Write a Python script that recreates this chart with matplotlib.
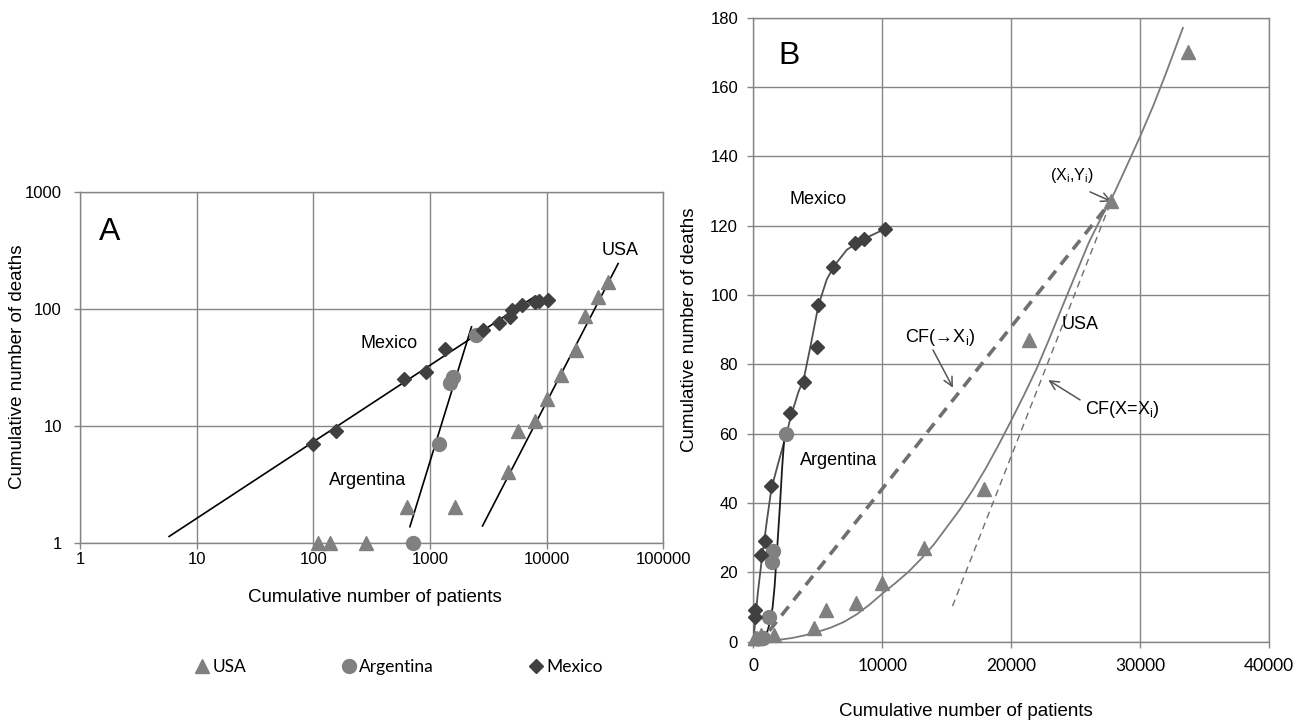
import matplotlib
matplotlib.use("Agg")
import matplotlib.pyplot as plt
from matplotlib.lines import Line2D

plt.rcParams['font.family'] = ['Liberation Sans', 'DejaVu Sans']
plt.rcParams['mathtext.fontset'] = 'custom'
plt.rcParams['mathtext.rm'] = 'Liberation Sans'

# ---------------- data ----------------
usa_x = [109, 139, 282, 630, 1640, 4700, 5650, 7950, 10000, 13250, 17900, 21400, 27700, 33700]
usa_y = [1, 1, 1, 2, 2, 4, 9, 11, 17, 27, 44, 87, 127, 170]

arg_x = [720, 1200, 1480, 1560, 2500]
arg_y = [1, 7, 23, 26, 60]

mex_x = [100, 155, 600, 930, 1350, 2850, 3900, 4900, 5000, 6200, 7900, 8600, 10200]
mex_y = [7, 9, 25, 29, 45, 66, 75, 85, 97, 108, 115, 116, 119]

# Panel A: fitted power-law lines (end points)
mex_fit_x = [5.8, 8000]
mex_fit_y = [1.13, 128]
arg_fit_x = [673, 2270]
arg_fit_y = [1.37, 70]
usa_fit_x = [2820, 41000]
usa_fit_y = [1.39, 243]

# Panel B: fitted curves
usa_curve_x = [0, 1000, 2000, 3000, 4000, 5000, 6000, 7000, 8000, 9000, 10000, 11000,
               12000, 13000, 14000, 15000, 16000, 17000, 18000, 19000, 20000, 21000,
               22000, 23000, 24000, 25000, 26000, 27000, 28000, 29000, 30000, 31000,
               32000, 33300]
usa_curve_y = [0, 0.2, 0.5, 1.0, 1.8, 2.8, 4.0, 5.6, 7.8, 10.6, 13.8, 16.8,
               20, 23.8, 28, 33, 38, 43.6, 49.8, 56.6, 63.8, 71.2,
               79, 87.8, 97, 106, 115, 122.5, 129.5, 137.6, 145.8, 154.5,
               164, 177]

mex_curve_x = [0, 150, 350, 700, 1060, 1400, 1900, 2500, 3000, 3500, 3900, 4450, 5050,
               5700, 6300, 7250, 8500, 10200]
mex_curve_y = [0, 6, 14, 25, 35, 44, 51, 59, 66, 72, 75.5, 85.5, 97, 104.5, 108.5, 113, 116, 119]

arg_curve_x = [0, 400, 830, 1100, 1340, 1500, 1650, 1860, 2060, 2240, 2430]
arg_curve_y = [0, 0.4, 1.4, 3, 6.2, 10, 15.8, 27.4, 38.9, 50.4, 60.1]

# CF lines (panel B)
cf_to_x = [300, 27740]
cf_to_y = [-1.3, 127]
cf_eq_x = [15440, 27740]
cf_eq_y = [10.2, 127]

a_xticks = [1, 10, 100, 1000, 10000, 100000]
a_yticks = [1, 10, 100, 1000]
b_xticks = [0, 10000, 20000, 30000, 40000]
b_yticks = [0, 20, 40, 60, 80, 100, 120, 140, 160, 180]

# ---------------- style ----------------
GRID = '#858585'
USA_C = '#808080'
ARG_C = '#808080'
MEX_C = '#404040'

W, H = 1304, 723
fig = plt.figure(figsize=(W / 100, H / 100), dpi=100)

def fx(px):
    return px / W

def fy(py):
    return 1 - py / H

axA = fig.add_axes([fx(80), fy(542.7), fx(663.3) - fx(80), fy(191.7) - fy(542.7)])
axB = fig.add_axes([fx(753.3), fy(641.5), fx(1269.3) - fx(753.3), fy(17.5) - fy(641.5)])

for ax in (axA, axB):
    ax.set_axisbelow(True)
    ax.grid(True, color=GRID, lw=1.0)
    for s in ax.spines.values():
        s.set_color(GRID)
        s.set_linewidth(1.0)
    ax.tick_params(colors=GRID, labelcolor='black', length=4, width=1.0, labelsize=12)

# ---------- Panel A ----------
axA.set_xscale('log')
axA.set_yscale('log')
axA.set_xlim(1, 100000)
axA.set_ylim(1, 1000)
axA.set_xticks(a_xticks)
axA.set_xticklabels([str(v) for v in a_xticks])
axA.set_yticks(a_yticks)
axA.set_yticklabels([str(v) for v in a_yticks])
axA.minorticks_off()
axA.tick_params(axis='y', pad=9)
axA.tick_params(axis='x', pad=3)

axA.plot(mex_fit_x, mex_fit_y, color='black', lw=1.2, zorder=3)
axA.plot(arg_fit_x, arg_fit_y, color='black', lw=1.2, zorder=3)
axA.plot(usa_fit_x, usa_fit_y, color='black', lw=1.2, zorder=3)

axA.plot(usa_x, usa_y, ls='none', marker='^', ms=10, color=USA_C, mec=USA_C, zorder=4, clip_on=False)
axA.plot(arg_x, arg_y, ls='none', marker='o', ms=10, color=ARG_C, mec=ARG_C, zorder=4, clip_on=False)
axA.plot(mex_x, mex_y, ls='none', marker='D', ms=7.5, color=MEX_C, mec=MEX_C, zorder=5, clip_on=False)

axA.set_xlabel('Cumulative number of patients', fontsize=13.5)
axA.set_ylabel('Cumulative number of deaths', fontsize=13.5)
axA.xaxis.set_label_coords((375 - 80) / 583.3, (542.7 - 597) / 351.0)
axA.xaxis.label.set_va('center')
axA.yaxis.set_label_coords((18 - 80) / 583.3, 0.5)
axA.yaxis.label.set_va('center')

axA.text(0.05, 0.885, 'A', transform=axA.transAxes, fontsize=23, ha='center', va='center')
axA.text(445, 50, 'Mexico', fontsize=13, ha='center', va='center')
axA.text(294, 3.38, 'Argentina', fontsize=13, ha='center', va='center')
axA.text(42400, 314, 'USA', fontsize=13, ha='center', va='center')

# legend
handles = [
    Line2D([], [], ls='none', marker='^', ms=10, color=USA_C),
    Line2D([], [], ls='none', marker='o', ms=10, color=ARG_C),
    Line2D([], [], ls='none', marker='D', ms=7.5, color=MEX_C),
]
fig.legend(handles, ['USA', 'Argentina', 'Mexico'], loc='center',
           bbox_to_anchor=(fx(399), fy(667)), ncol=3, frameon=False,
           prop={'family': 'Lato', 'size': 12.5}, handlelength=0.8,
           handletextpad=0.2, columnspacing=5.5)

# ---------- Panel B ----------
axB.set_xlim(0, 40000)
axB.set_ylim(0, 180)
axB.set_xticks(b_xticks)
axB.set_xticklabels([str(v) for v in b_xticks], fontfamily='Lato', fontsize=12.5)
axB.set_yticks(b_yticks)
axB.set_yticklabels([str(v) for v in b_yticks])
axB.tick_params(axis='y', pad=7)
axB.tick_params(axis='x', pad=8)

axB.plot(usa_curve_x, usa_curve_y, color='#7a7a7a', lw=1.3, zorder=3)
axB.plot(mex_curve_x, mex_curve_y, color='#505050', lw=1.3, zorder=3)
axB.plot(arg_curve_x, arg_curve_y, color='#1a1a1a', lw=1.3, zorder=3)

axB.plot(cf_to_x, cf_to_y, color='#707070', lw=2.6, ls=(0, (3.2, 2.2)), zorder=3, clip_on=False)
axB.plot(cf_eq_x, cf_eq_y, color='#707070', lw=1.0, ls=(0, (5, 3.5)), zorder=3)

axB.plot(usa_x, usa_y, ls='none', marker='^', ms=10, color=USA_C, mec=USA_C, zorder=4, clip_on=False)
axB.plot(arg_x, arg_y, ls='none', marker='o', ms=10, color=ARG_C, mec=ARG_C, zorder=4, clip_on=False)
axB.plot(mex_x, mex_y, ls='none', marker='D', ms=7.5, color=MEX_C, mec=MEX_C, zorder=5, clip_on=False)

axB.set_xlabel('Cumulative number of patients', fontsize=13.5)
axB.set_ylabel('Cumulative number of deaths', fontsize=13.5)
axB.xaxis.set_label_coords((966 - 753.3) / 516.0, (641.5 - 711) / 624.0)
axB.xaxis.label.set_va('center')
axB.yaxis.set_label_coords((690 - 753.3) / 516.0, 0.5)
axB.yaxis.label.set_va('center')

axB.text(2770, 169, 'B', fontsize=23, ha='center', va='center')
axB.text(5015, 127.6, 'Mexico', fontsize=13, ha='center', va='center')
axB.text(6640, 52.1, 'Argentina', fontsize=13, ha='center', va='center')
axB.text(25320, 91.3, 'USA', fontsize=13, ha='center', va='center')

arrow = dict(arrowstyle='->', color='#555555', lw=1.1, mutation_scale=16, shrinkA=0, shrinkB=0)
axB.text(24700, 134.3, r'$\mathregular{(X_i{,}Y_i)}$', fontsize=11.5, ha='center', va='center')
axB.annotate('', xy=(27780, 126.9), xytext=(26100, 129.7), arrowprops=arrow)
axB.text(14470, 87.6, r'CF(→$\mathregular{X_i}$)', fontsize=13, ha='center', va='center')
axB.annotate('', xy=(15480, 73.2), xytext=(13930, 84.1), arrowprops=arrow)
axB.text(28580, 66.8, r'CF(X=$\mathregular{X_i}$)', fontsize=13, ha='center', va='center')
axB.annotate('', xy=(22870, 75.4), xytext=(25330, 69.7), arrowprops=arrow)

fig.savefig('out.png', dpi=100)
